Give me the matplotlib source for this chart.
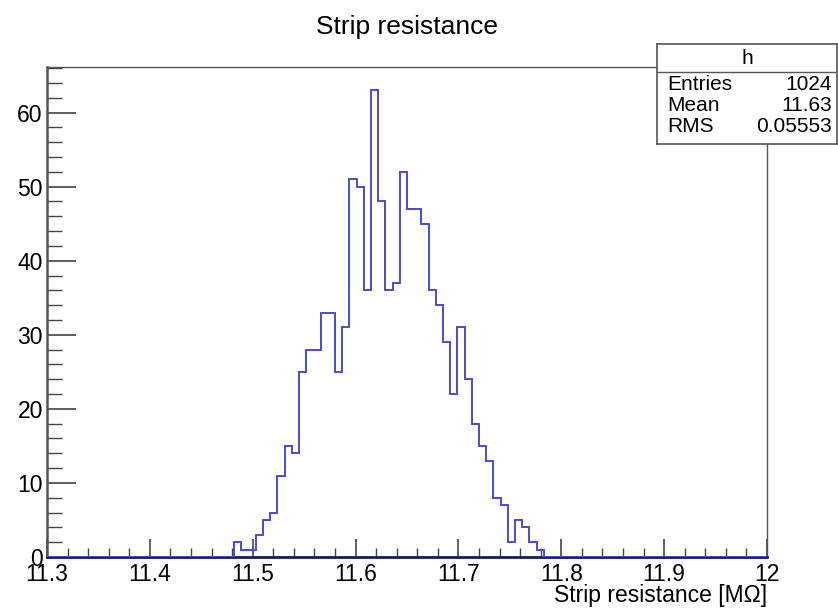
import numpy as np
import matplotlib.pyplot as plt
from matplotlib.ticker import MultipleLocator

plt.rcParams['font.family'] = ['Liberation Sans', 'DejaVu Sans']

# histogram: 100 bins from 11.3 to 12.0 MOhm
x_min, x_max, n_bins = 11.3, 12.0, 100
first_bin = 26  # bins before this are empty
counts_nonzero = [2, 1, 1, 3, 5, 6, 11, 15, 14, 25,
                  28, 28, 33, 33, 25, 31, 51, 50, 36, 63,
                  48, 36, 37, 52, 47, 47, 45, 36, 34, 29,
                  22, 31, 24, 18, 15, 13, 8, 7, 2, 5,
                  4, 2, 1]
stats_labels = ['Entries', 'Mean', 'RMS']
stats_values = ['1024', '11.63', '0.05553']

counts = np.zeros(n_bins)
counts[first_bin:first_bin + len(counts_nonzero)] = counts_nonzero
edges = np.linspace(x_min, x_max, n_bins + 1)

W, H = 838, 610
fig = plt.figure(figsize=(W / 100, H / 100), dpi=100)
L, R, T, B = 47, 767, 67, 557
ax = fig.add_axes([L / W, 1 - B / H, (R - L) / W, (B - T) / H])

ax.stairs(counts, edges, color='#4b4bd0', lw=1.4, baseline=None, zorder=3)
ax.set_xlim(x_min, x_max)
ax.set_ylim(0, counts.max() * 1.05)

ax.xaxis.set_major_locator(MultipleLocator(0.1))
ax.xaxis.set_minor_locator(MultipleLocator(0.02))
ax.yaxis.set_major_locator(MultipleLocator(10))
ax.yaxis.set_minor_locator(MultipleLocator(2))
ax.tick_params(axis='both', which='both', direction='in', colors='#444444',
               labelcolor='black', labelsize=16.5, top=False, right=False)
ax.tick_params(axis='x', which='major', length=13, width=1.2, pad=4)
ax.tick_params(axis='x', which='minor', length=6.5, width=1.0)
ax.tick_params(axis='y', which='major', length=21, width=1.2, pad=3)
ax.tick_params(axis='y', which='minor', length=11, width=1.0)
ax.set_xticks(np.round(np.arange(11.3, 12.01, 0.1), 1))
ax.set_xticklabels(['11.3', '11.4', '11.5', '11.6', '11.7', '11.8', '11.9', '12'])
for s in ax.spines.values():
    s.set_color('#555555')
    s.set_linewidth(1.0)
ax.spines['left'].set_linewidth(1.8)
ax.spines['bottom'].set_color('#1a1a5a')
ax.spines['bottom'].set_linewidth(2.0)

fig.text(R / W, 1 - 607 / H, 'Strip resistance [M\u03a9]', fontsize=16.5,
         ha='right', va='bottom')

fig.text(407 / W, 1 - 27 / H, 'Strip resistance', fontsize=19,
         ha='center', va='center')

# stats box
bx0, bx1, by0, by1 = 657, 837, 44, 144
sax = fig.add_axes([bx0 / W, 1 - by1 / H, (bx1 - bx0) / W, (by1 - by0) / H])
sax.set_xlim(bx0, bx1)
sax.set_ylim(by1, by0)
sax.set_xticks([])
sax.set_yticks([])
for s in sax.spines.values():
    s.set_color('#555555')
    s.set_linewidth(1.2)
sax.axhline(72, color='#555555', lw=1.0)
sax.text((bx0 + bx1) / 2, 58, 'h', fontsize=15, ha='center', va='center')
for i, (lab, val) in enumerate(zip(stats_labels, stats_values)):
    y = 84 + i * 21.5
    sax.text(667, y, lab, fontsize=15, ha='left', va='center')
    sax.text(832, y, val, fontsize=15, ha='right', va='center')

fig.savefig('out.png', dpi=100)
